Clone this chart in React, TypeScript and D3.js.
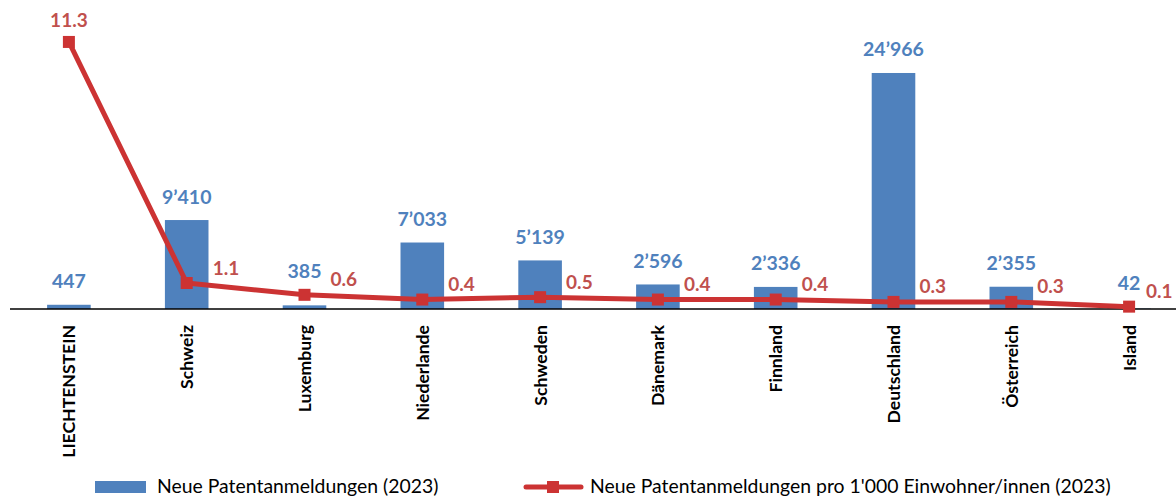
import React from "react";
import * as d3 from "d3";

const categories = ["LIECHTENSTEIN", "Schweiz", "Luxemburg", "Niederlande", "Schweden", "Dänemark", "Finnland", "Deutschland", "Österreich", "Island"];
const patents = [447, 9410, 385, 7033, 5139, 2596, 2336, 24966, 2355, 42];
const perThousand = [11.3, 1.1, 0.6, 0.4, 0.5, 0.4, 0.4, 0.3, 0.3, 0.1];
const barSeriesName = "Neue Patentanmeldungen (2023)";
const lineSeriesName = "Neue Patentanmeldungen pro 1'000 Einwohner/innen (2023)";

const W = 1176, H = 497;
const BLUE = "#4F81BD";
const RED = "#C0504D";
const LINE_RED = "#CC3333";
const FONT = "Lato, 'Open Sans', sans-serif";

const fmtBar = (v: number) => d3.format(",")(v).replace(/,/g, "\u2019");
const fmtLine = d3.format(".1f");

export default function App() {
  const baseY = 309;
  const topY = 25.4;
  const x = d3.scaleBand<string>().domain(categories).range([10, 1188]).paddingInner(0.63).paddingOuter(0.315);
  const yBar = d3.scaleLinear().domain([0, 30000]).range([baseY, topY]);
  const yLine = d3.scaleLinear().domain([0, 12]).range([baseY, topY]);
  const cx = (c: string) => (x(c) as number) + x.bandwidth() / 2;
  const pts: [number, number][] = categories.map((c, i) => [cx(c), yLine(perThousand[i])]);
  const line = d3.line();

  return (
    <svg width={W} height={H} style={{ position: "absolute", left: 0, top: 0, background: "#fff" }} fontFamily={FONT}>
      {categories.map((c, i) => (
        <rect key={c} x={x(c)} y={yBar(patents[i])} width={x.bandwidth()} height={baseY - yBar(patents[i])} fill={BLUE} />
      ))}
      <line x1={10} x2={1176} y1={baseY} y2={baseY} stroke="#000" strokeWidth={1.5} />
      {categories.map((c, i) => {
        const top = yBar(patents[i]);
        const my = pts[i][1];
        const ly = my > top - 30 && my < top + 30 ? Math.min(top, my) : top;
        return (
          <text key={"bl" + c} x={cx(c)} y={ly - 24} textAnchor="middle" dominantBaseline="central" fontSize={19.5} fontWeight="bold" fill={BLUE}>
            {fmtBar(patents[i])}
          </text>
        );
      })}
      <path d={line(pts) || ""} fill="none" stroke={LINE_RED} strokeWidth={5} strokeLinejoin="round" />
      {pts.map((p, i) => (
        <rect key={"m" + i} x={p[0] - 6} y={p[1] - 6} width={12} height={12} fill={LINE_RED} />
      ))}
      {pts.map((p, i) =>
        i === 0 ? (
          <text key={"ll" + i} x={p[0]} y={p[1] - 22} textAnchor="middle" dominantBaseline="central" fontSize={19} fontWeight="bold" fill={RED}>
            {fmtLine(perThousand[i])}
          </text>
        ) : (
          <text key={"ll" + i} x={Math.min(p[0] + 26, 1146)} y={p[1] - 16} textAnchor="start" dominantBaseline="central" fontSize={19} fontWeight="bold" fill={RED}>
            {fmtLine(perThousand[i])}
          </text>
        )
      )}
      {categories.map((c) => (
        <text key={"ax" + c} transform={`translate(${cx(c)},325) rotate(-90)`} textAnchor="end" dominantBaseline="central" fontSize={17.6} fontWeight="bold" fill="#000">
          {c}
        </text>
      ))}
      <rect x={95} y={481} width={51} height={12} fill={BLUE} />
      <text x={157} y={485} dominantBaseline="central" fontSize={19.4} fill="#000">{barSeriesName}</text>
      <line x1={526} x2={581} y1={487} y2={487} stroke={LINE_RED} strokeWidth={5} strokeLinecap="round" />
      <rect x={547} y={481} width={12} height={12} fill={LINE_RED} />
      <text x={590} y={485} dominantBaseline="central" fontSize={19.4} fill="#000">{lineSeriesName}</text>
    </svg>
  );
}
